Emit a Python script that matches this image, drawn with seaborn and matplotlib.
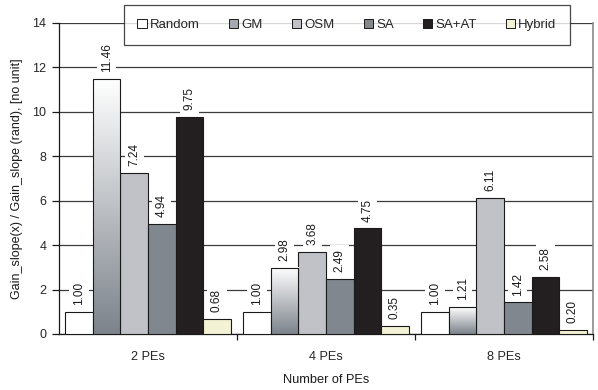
import matplotlib
matplotlib.use("Agg")
import matplotlib.pyplot as plt
import seaborn as sns
import numpy as np
import pandas as pd
from matplotlib.patches import Patch
from matplotlib.colors import LinearSegmentedColormap

categories = ["2 PEs", "4 PEs", "8 PEs"]
methods = ["Random", "GM", "OSM", "SA", "SA+AT", "Hybrid"]
random_vals = [1.00, 1.00, 1.00]
gm_vals = [11.46, 2.98, 1.21]
osm_vals = [7.24, 3.68, 6.11]
sa_vals = [4.94, 2.49, 1.42]
saat_vals = [9.75, 4.75, 2.58]
hybrid_vals = [0.68, 0.35, 0.20]
colors = ["#ffffff", "#b0b4ba", "#c0c2c8", "#80878f", "#231f20", "#f4f2d4"]

series = [random_vals, gm_vals, osm_vals, sa_vals, saat_vals, hybrid_vals]
rows = []
for m, vals in zip(methods, series):
    for c, v in zip(categories, vals):
        rows.append({"cat": c, "method": m, "value": v})
df = pd.DataFrame(rows)

sns.set_style("white")
plt.rcParams["font.family"] = ["Liberation Sans", "DejaVu Sans"]

fig = plt.figure(figsize=(5.98, 3.90), dpi=100)
ax = fig.add_axes([59/598, 1-334/390, (593-59)/598, (334-23)/390])

sns.barplot(data=df, x="cat", y="value", hue="method", order=categories,
            hue_order=methods, palette=colors, width=0.93, gap=0,
            edgecolor="#1a1a1a", linewidth=0.8, ax=ax, legend=False,
            saturation=1, zorder=3)

ax.set_xlim(-0.5, 2.5)
ax.set_ylim(0, 14)
ax.set_yticks(np.arange(0, 15, 2))
ax.yaxis.grid(True, color="#3c3c3c", linewidth=0.9, zorder=0)
ax.set_axisbelow(True)

# gradient on GM bars
grad = np.linspace(0, 1, 256).reshape(-1, 1)
cmap = LinearSegmentedColormap.from_list("gm", ["#7c838b", "#ffffff"])
n = len(categories)
gm_patches = ax.patches[n*1:n*2]
for p in gm_patches:
    x0, y0 = p.get_x(), p.get_y()
    w, h = p.get_width(), p.get_height()
    ax.imshow(grad, cmap=cmap, aspect="auto", origin="lower",
              extent=[x0, x0 + w, y0, y0 + h], zorder=3.5)
    p.set_facecolor("none")
    p.set_zorder(4)
ax.set_xlim(-0.5, 2.5)
ax.set_ylim(0, 14)

# value labels
for p in list(ax.patches):
    h = p.get_height()
    if np.isnan(h):
        continue
    ax.annotate(f"{h:.2f}", (p.get_x() + p.get_width()/2, h),
                xytext=(0, 5), textcoords="offset points",
                rotation=90, ha="center", va="bottom", fontsize=8.5,
                color="#1a1a1a", zorder=6,
                bbox=dict(boxstyle="square,pad=0.3", fc="white", ec="none"))

ax.spines["top"].set_visible(False)
ax.spines["right"].set_color("#8a8a8a")
ax.spines["right"].set_linewidth(1.2)
ax.spines["left"].set_color("#1a1a1a")
ax.spines["bottom"].set_color("#1a1a1a")
ax.spines["left"].set_linewidth(0.9)
ax.spines["bottom"].set_linewidth(0.9)

ax.tick_params(axis="y", which="major", length=5, width=0.9, color="#1a1a1a",
               labelsize=9, pad=4, left=True)
ax.tick_params(axis="x", which="major", length=0, labelsize=9.2, pad=12)
ax.set_xticks([0.5, 1.5, 2.5], minor=True)
ax.tick_params(axis="x", which="minor", length=4, width=0.9, color="#1a1a1a", bottom=True)

ax.set_xlabel("Number of PEs", fontsize=9.2, labelpad=8, color="#1a1a1a")
ax.set_ylabel("Gain_slope(x) / Gain_slope (rand), [no unit]", fontsize=9,
              labelpad=7, color="#1a1a1a")

handles = [Patch(facecolor=c, edgecolor="#1a1a1a", linewidth=0.7) for c in colors]
handles[1] = Patch(facecolor="#a6aab0", edgecolor="#1a1a1a", linewidth=0.7)
leg = fig.legend(handles, methods, ncol=6,
                 bbox_to_anchor=(347/598, 1-25/390),
                 loc="center", frameon=True, fancybox=False, fontsize=9.5,
                 handlelength=0.7, handleheight=0.7, handletextpad=0.25,
                 borderpad=1.05, borderaxespad=0, columnspacing=2.2)
leg.get_frame().set_edgecolor("#1a1a1a")
leg.get_frame().set_linewidth(0.9)

fig.savefig("out.png", dpi=100)
